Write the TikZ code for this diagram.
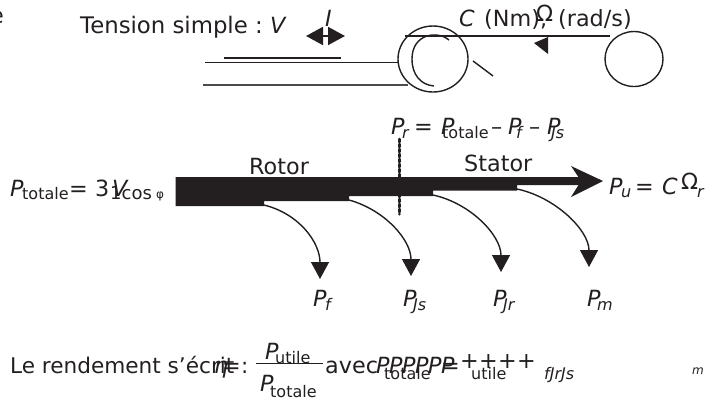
\documentclass[tikz,border=0pt]{standalone}
\usepackage{fontspec}
\setmainfont{DejaVu Sans}
\usetikzlibrary{arrows.meta}
\definecolor{ink}{HTML}{231F20}
\tikzset{
  txt/.style={anchor=base west,inner sep=0pt,text=ink,font=\fontsize{22.3}{22}\selectfont},
  var/.style={txt,font=\fontsize{22.3}{22}\selectfont\itshape},
  low/.style={txt,font=\fontsize{16}{16}\selectfont},
  lowvar/.style={txt,font=\fontsize{16}{16}\selectfont\itshape},
  wire/.style={ink,line width=1.4pt},
  loss/.style={ink,line width=1.4pt,-{Triangle[length=17pt,width=18pt]}},
}
\begin{document}
\begin{tikzpicture}[x=1pt,y=-1pt]
  \useasboundingbox (0,0) rectangle (708,397);
  % supply and machine
  \node[txt] (clip) at (-10,23) {e};
  \node[txt,font=\fontsize{22.8}{22}\selectfont] (tension) at (80,33) {Tension simple :};
  \node[var] (V) at (270,33) {V};
  \node[var] (I) at (325,26) {I};
  \node[var] (C) at (459,26) {C};
  \node[txt] (Nm) at (484,26) {(Nm),};
  \node[txt] (Om) at (536,21) {Ω};
  \node[txt] (rad) at (558,26) {(rad/s)};
  \coordinate (Il) at (306,36);
  \coordinate (Ir) at (345,36);
  \draw[ink,line width=1.8pt,{Triangle[length=17pt,width=18pt]}-{Triangle[length=17pt,width=18pt]}] (Il)--(Ir);
  \draw[wire] (224,58)--(341,58);
  \draw[wire] (205,62.5)--(398,62.5);
  \draw[wire,black!70] (203,85)--(408,85);
  \draw[wire] (433,59) ellipse (35 and 33);
  \draw[wire] (449,40) .. controls (437,30) and (412,34) .. (412,59) .. controls (412,75) and (421,85) .. (434,86);
  \draw[wire] (405,36)--(610,36);
  \draw[wire] (473,61)--(493,76);
  \draw[wire] (634,59) ellipse (29 and 27.5);
  \fill[ink] (534,43)--(548,37)--(548,54)--cycle;
  % power flow
  \fill[ink] (175.5,177)--(590,177)--(590,185)--(517,185)--(517,190.5)--(433,190.5)--(433,196)--(349,196)--(349,201)--(264,201)--(264,206)--(175.5,206)--cycle;
  \fill[ink] (603,181)--(571,166)--(581,181)--(571,197)--cycle;
  \draw[ink,line width=3pt,dotted,line cap=round] (399.5,139)--(399.5,214);
  \foreach \name/\xa/\ya/\xb/\yb/\xc/\yc/\xd/\yd in {f/264/205/300/214/320/243/320/279,
      Js/349/200/385/210/411/240/411/276,
      Jr/433/195/470/203/501/235/501/272,
      m/517/189/555/197/589/230/589/267}{
    \coordinate (to\name) at (\xd,\yd);
    \draw[loss] (\xa,\ya) .. controls (\xb,\yb) and (\xc,\yc) .. (to\name);
  }
  \foreach \name/\xp/\xs in {f/313/325,Js/403/413,Jr/493/503,m/587/597}{
    \node[var] (P\name) at (\xp,306) {P};
    \node[lowvar] (s\name) at (\xs,310) {\name};
  }
  \node[txt] (rotor) at (249,174) {Rotor};
  \node[txt] (stator) at (464,171) {Stator};
  % input side
  \node[var] (Pin) at (10,196) {P};
  \node[low] (Pint) at (22,199) {totale};
  \node[txt] (eqin) at (69,196) {=};
  \node[txt] (three) at (95,196) {3};
  \node[var] (Vin) at (112,196) {V};
  \node[low,font=\fontsize{18}{18}\selectfont] (cosin) at (110,199) {1cos};
  \node[txt,font=\fontsize{12}{12}\selectfont] (phi) at (156,198) {φ};
  % rotor power
  \node[var] (Pr) at (391,134) {P};
  \node[lowvar] (sr) at (402,138) {r};
  \node[txt] (eqr) at (414,134) {=};
  \node[var] (Pt) at (441,134) {P};
  \node[low] (st) at (442,138) {totale};
  \node[txt] (ma) at (491,134) {–};
  \node[var] (Pff) at (508,134) {P};
  \node[lowvar] (sff) at (516,138) {f};
  \node[txt] (mb) at (529,134) {–};
  \node[var] (Pj) at (547,134) {P};
  \node[lowvar] (sj) at (551,138) {Js};
  % output side
  \node[var] (Pu) at (609,194) {P};
  \node[lowvar] (su) at (621,197) {u};
  \node[txt] (equ) at (635,194) {=};
  \node[var] (Cu) at (662,194) {C};
  \node[txt] (Omu) at (681,189) {Ω};
  \node[lowvar] (sru) at (697,197) {r};
  % efficiency
  \node[txt,font=\fontsize{21.6}{22}\selectfont] (rend) at (10,373) {Le rendement s’écrit :};
  \node[var] (eta) at (214,373) {η};
  \node[txt] (eqe) at (222,373) {=};
  \node[var] (Pn) at (265,359) {P};
  \node[low] (sn) at (275,363) {utile};
  \draw[ink,line width=1.2pt] (256,363.5)--(323,363.5);
  \node[var] (Pd) at (260,391) {P};
  \node[low] (sd) at (270,397) {totale};
  \node[txt] (avec) at (325,373) {avec};
  \foreach \i/\x in {1/376,2/389,3/402,4/415,5/428,6/441}{
    \node[var] (Pl\i) at (\x,373) {P};
  }
  \node[txt] (eql) at (441,373) {=};
  \foreach \i/\x in {1/460,2/479,3/498,4/517}{
    \node[txt] (plus\i) at (\x,368) {+};
  }
  \node[low] (slt) at (384,379) {totale};
  \node[low] (slu) at (471,379) {utile};
  \node[lowvar] (slj) at (544,379) {fJrJs};
  \node[lowvar,font=\fontsize{12}{12}\selectfont\itshape] (slm) at (692,374) {m};
\end{tikzpicture}
\end{document}
